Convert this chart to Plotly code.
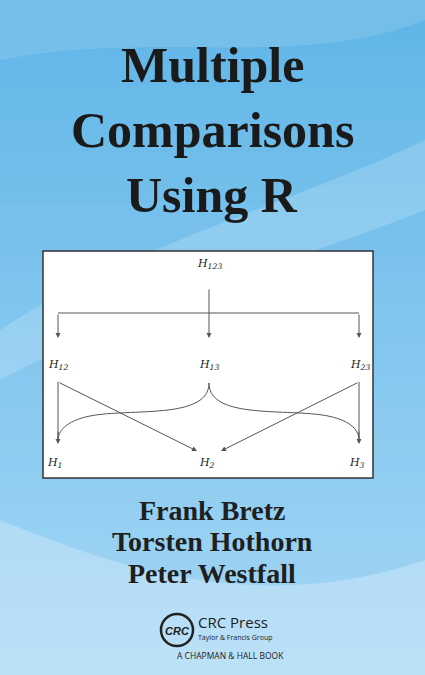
import plotly.graph_objects as go

W, H = 425, 675

TITLE = ['Multiple', 'Comparisons', 'Using R']
AUTHORS = ['Frank Bretz', 'Torsten Hothorn', 'Peter Westfall']
NODES = ['H<sub>123</sub>', 'H<sub>12</sub>', 'H<sub>13</sub>', 'H<sub>23</sub>', 'H<sub>1</sub>', 'H<sub>2</sub>', 'H<sub>3</sub>']
NODE_X = [209, 58, 209, 360, 55, 207, 357]
NODE_Y = [264, 365, 365, 365, 463, 463, 463]

fig = go.Figure()
shapes = []
# background gradient (horizontal bands)
top, bot = (96, 182, 232), (165, 215, 245)
n = 40
for i in range(n):
    t = i / (n - 1)
    c = tuple(int(top[k] + (bot[k] - top[k]) * t) for k in range(3))
    shapes.append(dict(type='rect', x0=0, x1=W, y0=i * H / n, y1=(i + 1) * H / n + 1,
                       fillcolor='rgb(%d,%d,%d)' % c, line_width=0, layer='below'))
# light swooshes
shapes.append(dict(type='path', path='M 0 330 C 120 250 300 200 425 140 L 425 210 C 300 260 150 300 0 380 Z',
                   fillcolor='rgba(255,255,255,0.18)', line_width=0, layer='below'))
shapes.append(dict(type='path', path='M 0 520 C 100 560 250 620 425 560 L 425 675 L 0 675 Z',
                   fillcolor='rgba(255,255,255,0.25)', line_width=0, layer='below'))
shapes.append(dict(type='path', path='M 0 60 C 150 30 300 70 425 20 L 425 0 L 0 0 Z',
                   fillcolor='rgba(255,255,255,0.12)', line_width=0, layer='below'))
# diagram box
shapes.append(dict(type='rect', x0=43, x1=373, y0=251, y1=478, fillcolor='white',
                   line=dict(color='#333', width=1.5)))
ln = dict(color='#555', width=1)
shapes.append(dict(type='line', x0=58, x1=359, y0=313, y1=313, line=ln))
shapes.append(dict(type='line', x0=58, x1=58, y0=382, y1=440, line=ln))
shapes.append(dict(type='line', x0=359, x1=359, y0=382, y1=440, line=ln))
shapes.append(dict(type='path', path='M 209 383 C 209 420 130 408 90 416 C 65 421 58 432 58 440', line=ln))
shapes.append(dict(type='path', path='M 209 383 C 209 420 288 408 328 416 C 353 421 359 432 359 440', line=ln))
fig.update_layout(shapes=shapes)

ann = []
arrows = [(209, 288, 209, 338), (58, 313, 58, 338), (359, 313, 359, 338),
          (58, 382, 197, 451), (359, 382, 221, 451), (58, 430, 58, 444), (359, 430, 359, 444)]
for x0, y0, x1, y1 in arrows:
    ann.append(dict(x=x1, y=y1, ax=x0, ay=y0, xref='x', yref='y', axref='x', ayref='y', text='',
                    showarrow=True, arrowhead=2, arrowsize=1, arrowwidth=1, arrowcolor='#555'))
for t, x, y in zip(NODES, NODE_X, NODE_Y):
    ann.append(dict(x=x, y=y, text='<i>' + t + '</i>', showarrow=False,
                    font=dict(family='DejaVu Serif', size=11, color='#222')))
for i, t in enumerate(TITLE):
    ann.append(dict(x=212, y=65 + 65 * i, text='<b>' + t + '</b>', showarrow=False,
                    font=dict(family='Liberation Serif', size=50, color='#1a1a1a')))
for i, t in enumerate(AUTHORS):
    ann.append(dict(x=212, y=510 + 31.5 * i, text='<b>' + t + '</b>', showarrow=False,
                    font=dict(family='Liberation Serif', size=28, color='#1f1f1f')))
# publisher logo
fig.add_shape(type='circle', x0=161, x1=193, y0=614, y1=646, line=dict(color='#222', width=2.5))
ann.append(dict(x=177, y=631, text='<b><i>CRC</i></b>', showarrow=False,
                font=dict(family='Liberation Sans', size=11, color='#222')))
ann.append(dict(x=196, y=622, text='CRC Press', showarrow=False, xanchor='left',
                font=dict(family='Open Sans', size=15, color='#222')))
ann.append(dict(x=196, y=637, text='Taylor & Francis Group', showarrow=False, xanchor='left',
                font=dict(family='Open Sans', size=7, color='#222')))
ann.append(dict(x=230, y=655, text='A CHAPMAN &amp; HALL BOOK', showarrow=False,
                font=dict(family='Open Sans', size=8.5, color='#222')))
fig.update_layout(annotations=ann)

fig.update_layout(width=W, height=H, margin=dict(l=0, r=0, t=0, b=0),
                  plot_bgcolor='white', paper_bgcolor='rgb(130,200,240)', showlegend=False,
                  xaxis=dict(range=[0, W], visible=False, fixedrange=True),
                  yaxis=dict(range=[H, 0], visible=False, fixedrange=True))
fig.write_html('out.html', config=dict(displayModeBar=False),
               post_script="document.body.style.margin='0';")
